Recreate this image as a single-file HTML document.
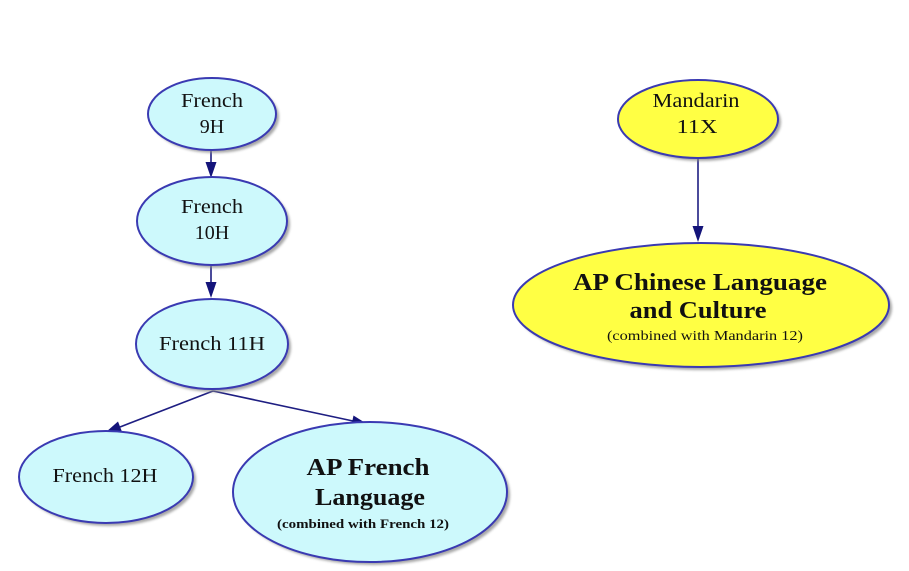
<!DOCTYPE html>
<html>
<head>
<meta charset="utf-8">
<style>
  html,body{margin:0;padding:0;background:#fff;}
  svg{display:block;}
  text{font-family:"Liberation Serif","Times New Roman",serif;fill:#111;}
</style>
</head>
<body>
<svg width="909" height="571" viewBox="0 0 909 571" xmlns="http://www.w3.org/2000/svg">
  <defs>
    <filter id="sh" x="-10%" y="-10%" width="125%" height="130%">
      <feGaussianBlur stdDeviation="1.2"/>
    </filter>
  </defs>

  <!-- connectors -->
  <g stroke="#1e1e82" stroke-width="1.6" fill="none">
    <line x1="211" y1="150" x2="211" y2="164"/>
    <line x1="211" y1="265" x2="211" y2="284"/>
    <line x1="213" y1="391" x2="120" y2="427"/>
    <line x1="213" y1="391" x2="353" y2="421"/>
    <line x1="698" y1="158" x2="698" y2="228"/>
  </g>
  <g fill="#14147a">
    <polygon points="211,178 205.5,162 216.5,162"/>
    <polygon points="211,298 205.5,282 216.5,282"/>
    <polygon points="106,432 122,431.7 118,421.5"/>
    <polygon points="367,424 351.2,426.2 353.5,415.5"/>
    <polygon points="698,242 692.5,226 703.5,226"/>
  </g>

  <!-- shadows -->
  <g fill="#8a8a8a" opacity="0.75" filter="url(#sh)">
    <ellipse cx="215" cy="117" rx="64" ry="36"/>
    <ellipse cx="215" cy="224" rx="75" ry="44"/>
    <ellipse cx="215" cy="347" rx="76" ry="45"/>
    <ellipse cx="109" cy="480" rx="87" ry="46"/>
    <ellipse cx="373" cy="495" rx="137" ry="70"/>
    <ellipse cx="701" cy="122" rx="80" ry="39"/>
    <ellipse cx="704" cy="308" rx="188" ry="62"/>
  </g>

  <!-- nodes -->
  <g stroke="#3a3ab2" stroke-width="2">
    <ellipse cx="212" cy="114" rx="64" ry="36" fill="#cdf9fc"/>
    <ellipse cx="212" cy="221" rx="75" ry="44" fill="#cdf9fc"/>
    <ellipse cx="212" cy="344" rx="76" ry="45" fill="#cdf9fc"/>
    <ellipse cx="106" cy="477" rx="87" ry="46" fill="#cdf9fc"/>
    <ellipse cx="370" cy="492" rx="137" ry="70" fill="#cdf9fc"/>
    <ellipse cx="698" cy="119" rx="80" ry="39" fill="#ffff44"/>
    <ellipse cx="701" cy="305" rx="188" ry="62" fill="#ffff44"/>
  </g>

  <!-- labels -->
  <g font-size="20" text-anchor="middle">
    <text x="212" y="107" textLength="62" lengthAdjust="spacingAndGlyphs">French</text>
    <text x="212" y="133">9H</text>
    <text x="212" y="213" textLength="62" lengthAdjust="spacingAndGlyphs">French</text>
    <text x="212" y="239">10H</text>
    <text x="212" y="350" textLength="106" lengthAdjust="spacingAndGlyphs">French 11H</text>
    <text x="105" y="482" textLength="105" lengthAdjust="spacingAndGlyphs">French 12H</text>
    <text x="696" y="107" textLength="87" lengthAdjust="spacingAndGlyphs">Mandarin</text>
    <text x="697" y="133" textLength="41" lengthAdjust="spacingAndGlyphs">11X</text>
  </g>

  <g font-weight="bold" text-anchor="middle">
    <text x="368" y="475" font-size="24" textLength="123" lengthAdjust="spacingAndGlyphs">AP French</text>
    <text x="370" y="505" font-size="24" textLength="110" lengthAdjust="spacingAndGlyphs">Language</text>
    <text x="363" y="528" font-size="13" textLength="172" lengthAdjust="spacingAndGlyphs">(combined with French 12)</text>
    <text x="700" y="290" font-size="24" textLength="254" lengthAdjust="spacingAndGlyphs">AP Chinese Language</text>
    <text x="698" y="318" font-size="24" textLength="137" lengthAdjust="spacingAndGlyphs">and Culture</text>
  </g>
  <text x="705" y="340" font-size="14" text-anchor="middle" textLength="196" lengthAdjust="spacingAndGlyphs">(combined with Mandarin 12)</text>
</svg>
</body>
</html>
